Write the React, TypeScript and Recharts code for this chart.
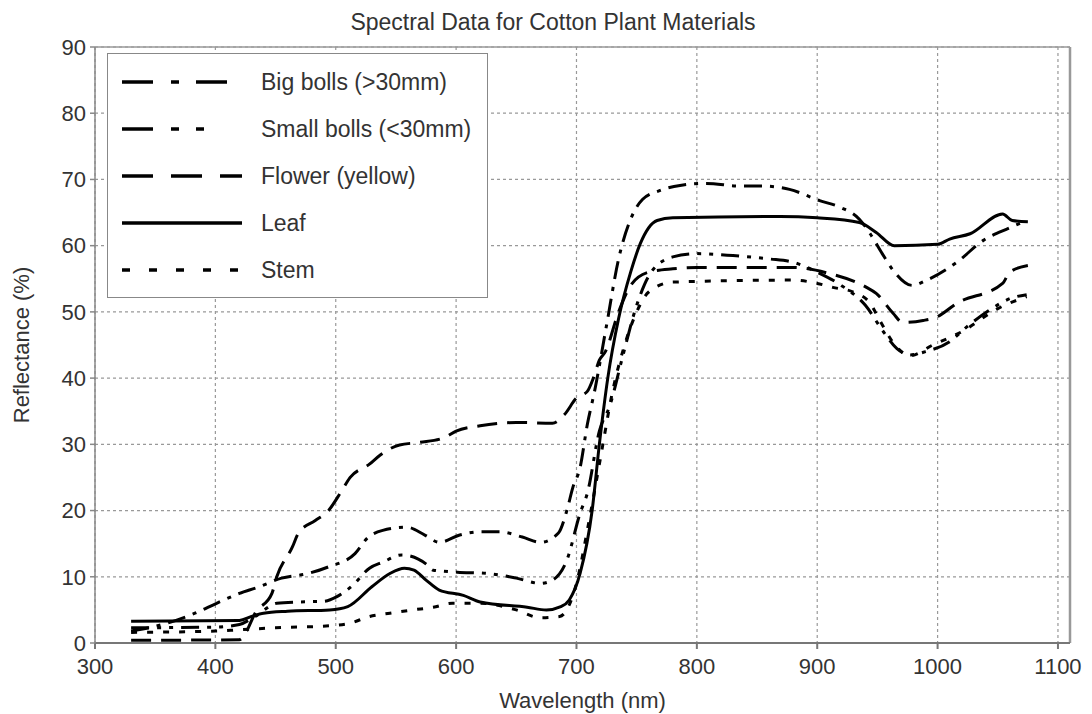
import { LineChart, Line, XAxis, YAxis, CartesianGrid, ReferenceLine, Label } from "recharts";

// wavelength (nm) / reflectance (%)
const bigBollsNm = [330, 360, 383, 401, 420, 435, 455, 477, 494, 516, 526, 539, 559, 574, 586, 603, 620, 636, 655, 670, 685, 692, 697, 703, 709, 715, 725, 735, 745, 755, 769, 786, 808, 836, 855, 877, 902, 919, 935, 944, 954, 963, 979, 991, 1016, 1038, 1060, 1074];
const bigBollsR = [1.8, 3.0, 4.5, 6.0, 7.5, 8.4, 9.8, 10.5, 11.5, 13.5, 15.8, 17.0, 17.5, 16.3, 15.2, 16.3, 16.8, 16.8, 16.0, 15.2, 16.6, 20, 23.5, 26.5, 33, 38, 48, 58, 64, 67, 68.3, 69.1, 69.4, 69, 69, 68.5, 66.8, 65.8, 64, 61.8, 58.8, 56.3, 54, 54.8, 57.5, 60.8, 62.7, 63.8];

const smallBollsNm = [330, 400, 420, 433, 451, 470, 490, 501, 514, 528, 539, 555, 576, 581, 601, 626, 650, 670, 680, 692, 703, 709, 719, 728, 738, 750, 762, 780, 800, 830, 860, 880, 900, 920, 940, 955, 966, 977, 990, 1010, 1024, 1045, 1060, 1074];
const smallBollsR = [2.3, 2.4, 2.8, 4.0, 6.0, 6.2, 6.3, 7.0, 8.7, 11.3, 12.2, 13.3, 11.8, 11.0, 10.7, 10.5, 9.8, 9.0, 9.5, 12.5, 19.6, 22.6, 32, 36, 43, 51, 56, 58.3, 58.8, 58.5, 58, 57.5, 56, 54, 51, 47, 44.5, 43.5, 44, 45.5, 47.7, 50.5, 52, 52.6];

const flowerNm = [330, 420, 425, 433, 447, 451, 464, 469, 483, 493, 505, 512, 528, 537, 553, 570, 590, 600, 620, 650, 680, 690, 700, 709, 714, 719, 724, 735, 745, 760, 780, 800, 850, 880, 910, 941, 949, 963, 971, 988, 999, 1016, 1054, 1060, 1075];
const flowerR = [0.4, 0.5, 1.5, 4.5, 7.5, 10, 14.5, 16.6, 18.5, 19.8, 23, 25, 27, 28.4, 29.9, 30.3, 31, 32, 32.8, 33.3, 33.2, 34.5, 37, 38, 40, 42.7, 44, 50, 54, 56, 56.5, 56.7, 56.7, 56.7, 55.8, 53.7, 52.8, 49.8, 48.4, 48.7, 49.2, 51.3, 54.3, 56, 57];

const leafNm = [330, 420, 430, 440, 460, 495, 510, 530, 545, 557, 565, 575, 586, 606, 620, 659, 675, 687, 694, 703, 713, 719, 726, 735, 745, 753, 767, 780, 869, 900, 935, 949, 964, 1000, 1010, 1027, 1054, 1062, 1075];
const leafR = [3.3, 3.4, 4.0, 4.5, 4.8, 5.0, 5.5, 8.5, 10.5, 11.3, 11.0, 9.5, 8.0, 7.2, 6.2, 5.4, 5.0, 5.5, 6.5, 10.5, 20, 30, 40, 49, 56, 60.3, 63.8, 64.2, 64.4, 64.2, 63.5, 62, 60, 60.2, 61, 61.8, 64.8, 63.8, 63.6];

const stemNm = [330, 400, 420, 450, 495, 512, 528, 545, 564, 581, 597, 620, 650, 670, 686, 700, 710, 720, 730, 740, 750, 760, 780, 880, 900, 913, 930, 944, 952, 966, 977, 996, 1020, 1050, 1074];
const stemR = [1.6, 1.8, 2.0, 2.3, 2.6, 3.0, 4.0, 4.5, 5.0, 5.4, 6.0, 6.0, 5.0, 3.8, 4.0, 9, 18, 28, 38, 45, 50, 53, 54.5, 54.8, 54.3, 53.7, 53, 51.3, 48.7, 44.7, 43.4, 45, 47, 50.5, 52.3];

const xTicks = [300, 400, 500, 600, 700, 800, 900, 1000, 1100];
const yTicks = [0, 10, 20, 30, 40, 50, 60, 70, 80, 90];

const toRows = (nm: number[], r: number[]) => nm.map((x, i) => ({ nm: x, r: r[i] }));

const series = [
  { name: "Big bolls (>30mm)", data: toRows(bigBollsNm, bigBollsR), dash: "18 8 4 8", legendDash: "31 18 8 17" },
  { name: "Small bolls (<30mm)", data: toRows(smallBollsNm, smallBollsR), dash: "18 8 4 8 4 8", legendDash: "31 18 8 17 8 200" },
  { name: "Flower (yellow)", data: toRows(flowerNm, flowerR), dash: "20 10", legendDash: "31 18" },
  { name: "Leaf", data: toRows(leafNm, leafR), dash: undefined, legendDash: undefined },
  { name: "Stem", data: toRows(stemNm, stemR), dash: "6 10", legendDash: "8 19" },
];

const FONT = "'Liberation Sans', Arial, sans-serif";
const TEXT = "#333";

function LegendBox() {
  return (
    <div style={{ position: "absolute", left: 107, top: 53, width: 381, height: 245, border: "1.5px solid #888", background: "#fff", boxSizing: "border-box", fontFamily: FONT, fontSize: 23, color: TEXT }}>
      {series.map((s, i) => (
        <div key={s.name} style={{ position: "absolute", left: 14, top: 13 + i * 47, height: 30, display: "flex", alignItems: "center" }}>
          <svg width={122} height={10} style={{ marginRight: 17 }}>
            <line x1={0} y1={5} x2={120} y2={5} stroke="#000" strokeWidth={3.5} strokeDasharray={s.legendDash} />
          </svg>
          <span>{s.name}</span>
        </div>
      ))}
    </div>
  );
}

export default function App() {
  return (
    <div style={{ position: "absolute", left: 0, top: 0, width: 1092, height: 714, background: "#fff" }}>
      <div style={{ position: "absolute", top: 9, left: 0, width: 1106, textAlign: "center", fontFamily: FONT, fontSize: 23, color: TEXT }}>
        Spectral Data for Cotton Plant Materials
      </div>
      <LineChart width={1092} height={714} margin={{ top: 47, right: 22, left: 35, bottom: 0 }}>
        <CartesianGrid stroke="#999" strokeDasharray="3 3" strokeWidth={1.2} />
        <XAxis
          dataKey="nm"
          type="number"
          domain={[300, 1110]}
          ticks={xTicks}
          allowDuplicatedCategory={false}
          height={71}
          stroke="#777"
          strokeWidth={2}
          tickSize={6}
          tick={{ fill: TEXT, fontSize: 22, fontFamily: FONT }}
          tickMargin={9}
        >
          <Label value="Wavelength (nm)" position="insideBottom" offset={6} style={{ fill: TEXT, fontSize: 22, fontFamily: FONT }} />
        </XAxis>
        <YAxis
          type="number"
          domain={[0, 90]}
          ticks={yTicks}
          width={60}
          stroke="#888"
          strokeWidth={1.5}
          tickSize={5}
          tick={{ fill: TEXT, fontSize: 22, fontFamily: FONT }}
          tickMargin={4}
        >
          <Label value="Reflectance (%)" angle={-90} position="insideLeft" offset={-14} style={{ fill: TEXT, fontSize: 22, fontFamily: FONT, textAnchor: "middle" }} />
        </YAxis>
        <ReferenceLine y={90} stroke="#999" strokeWidth={1.5} />
        <ReferenceLine x={1110} stroke="#999" strokeWidth={2.5} />
        {series.map((s) => (
          <Line
            key={s.name}
            data={s.data}
            dataKey="r"
            name={s.name}
            type="monotone"
            stroke="#000"
            strokeWidth={3}
            strokeDasharray={s.dash}
            dot={false}
            isAnimationActive={false}
          />
        ))}
      </LineChart>
      <LegendBox />
    </div>
  );
}
